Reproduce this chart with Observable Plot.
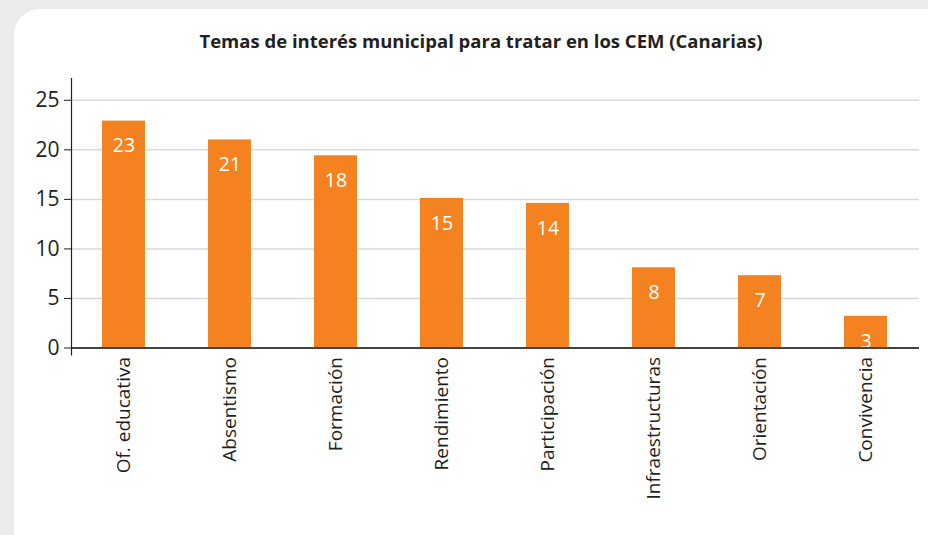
<!DOCTYPE html>
<html>
<head>
<meta charset="utf-8">
<script src="https://cdn.jsdelivr.net/npm/d3@7"></script>
<script src="https://cdn.jsdelivr.net/npm/@observablehq/plot@0.6"></script>
<style>
  html, body { margin: 0; padding: 0; }
  body { width: 928px; height: 535px; background: #ebebeb; position: relative; overflow: hidden; font-family: "Open Sans", sans-serif; }
  #card { position: absolute; left: 14px; top: 9px; width: 960px; height: 560px; background: #ffffff; border-radius: 26px; }
  #title { position: absolute; left: 0; width: 962px; top: 32px; text-align: center; font: bold 18.5px/1 "Open Sans", sans-serif; color: #231f20; white-space: nowrap; }
  #chart { position: absolute; left: 0; top: 0; }
</style>
</head>
<body>
<div id="card"></div>
<div id="title">Temas de interés municipal para tratar en los CEM (Canarias)</div>
<div id="chart"></div>
<script>
const categories = ["Of. educativa", "Absentismo", "Formación", "Rendimiento", "Participación", "Infraestructuras", "Orientación", "Convivencia"];
const values = [22.9, 21.0, 19.4, 15.1, 14.6, 8.1, 7.3, 3.2];
const labels = ["23", "21", "18", "15", "14", "8", "7", "3"];
const yTicks = [0, 5, 10, 15, 20, 25];

const data = categories.map((c, i) => ({cat: c, value: values[i], label: labels[i]}));

const plot = Plot.plot({
  width: 928,
  height: 535,
  marginLeft: 71,
  marginRight: 9,
  marginTop: 78,
  marginBottom: 187.5,
  style: {background: "transparent", fontFamily: "Open Sans, sans-serif", color: "#231f20"},
  x: {domain: categories, paddingInner: 0.594, paddingOuter: 0.297, label: null},
  y: {domain: [0, 27.2], label: null},
  marks: [
    Plot.ruleY(yTicks.filter(d => d > 0), {stroke: "#d9d9d9", strokeWidth: 1.5}),
    Plot.barY(data, {x: "cat", y: "value", fill: "#f58220"}),
    Plot.text(data, {x: "cat", y: "value", text: "label", dy: 25, fill: "white", fontSize: 19.5}),
    Plot.ruleY([0], {stroke: "#444444", strokeWidth: 2}),
    Plot.frame({anchor: "left", stroke: "#231f20", strokeWidth: 1.2, insetBottom: -7}),
    Plot.axisY({ticks: yTicks, tickSize: 7, tickPadding: 5, fontSize: 21, tickFormat: d => String(d)}),
    Plot.axisX({tickRotate: -90, tickSize: 0, tickPadding: 9, fontSize: 19})
  ]
});
document.getElementById("chart").appendChild(plot);
</script>
</body>
</html>
